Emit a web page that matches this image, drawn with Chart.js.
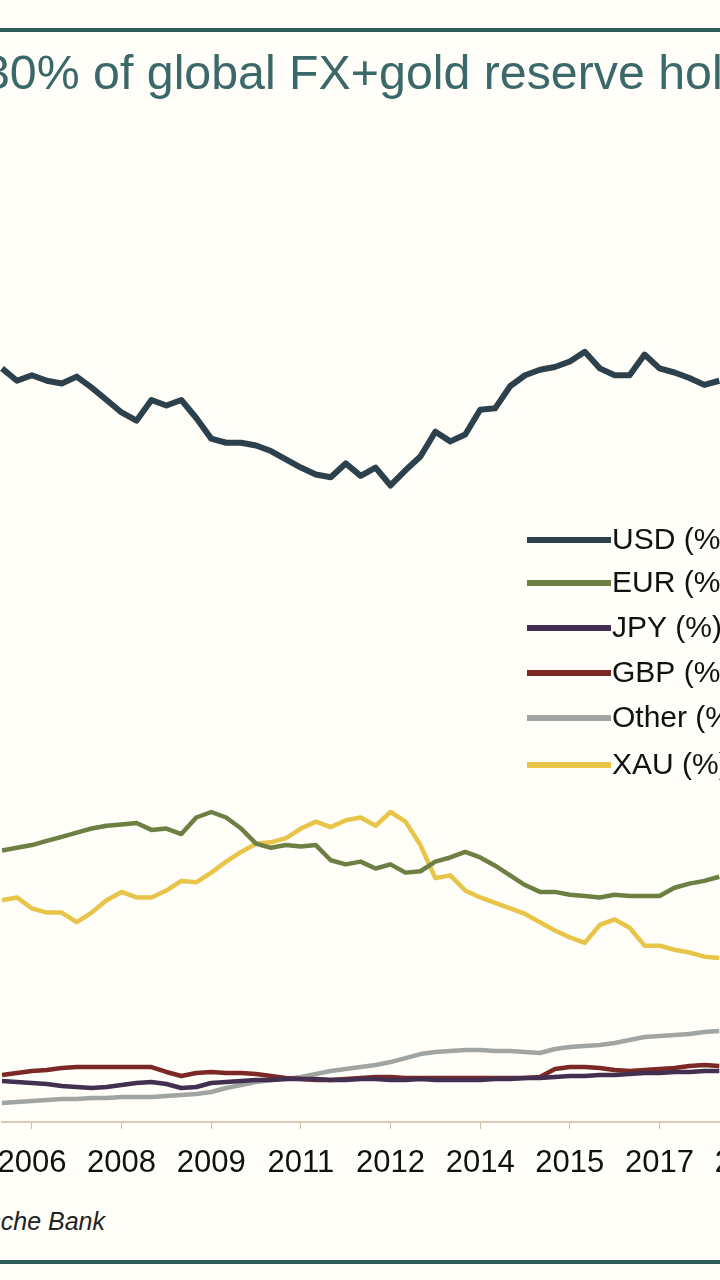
<!DOCTYPE html>
<html>
<head>
<meta charset="utf-8">
<script src="https://cdn.jsdelivr.net/npm/chart.js@4.4.1/dist/chart.umd.min.js"></script>
<style>
  html, body { margin: 0; padding: 0; background: #fffef8; }
  #frame { position: relative; width: 720px; height: 1280px; overflow: hidden; background: #fffef8; }
  #myChart { position: absolute; left: 0; top: 0; }
  .rule { position: absolute; left: 0; width: 720px; height: 4px; background: #2d5a5a; }
  #title { position: absolute; left: -17px; top: 46px; white-space: nowrap;
           font: 48.3px/52px "Liberation Sans", Arial, sans-serif; color: #3b6868; }
  #source { position: absolute; right: 615px; top: 1206px; white-space: nowrap; text-align: right;
            font: italic 25px/30px "Liberation Sans", Arial, sans-serif; color: #222; }
</style>
</head>
<body>
<div id="frame">
  <div class="rule" style="top:28px"></div>
  <div id="title">30% of global FX+gold reserve holdings</div>
  <canvas id="myChart" width="794" height="1200"></canvas>
  <div id="source">Source: IMF, Deutsche Bank</div>
  <div class="rule" style="top:1260px"></div>
</div>
<script>
// quarterly categories, 2006Q1 .. 2019Q2 (the right part is cut off like the original)
const quarters = [
  '2006Q1','2006Q2','2006Q3','2006Q4','2007Q1','2007Q2','2007Q3','2007Q4',
  '2008Q1','2008Q2','2008Q3','2008Q4','2009Q1','2009Q2','2009Q3','2009Q4',
  '2010Q1','2010Q2','2010Q3','2010Q4','2011Q1','2011Q2','2011Q3','2011Q4',
  '2012Q1','2012Q2','2012Q3','2012Q4','2013Q1','2013Q2','2013Q3','2013Q4',
  '2014Q1','2014Q2','2014Q3','2014Q4','2015Q1','2015Q2','2015Q3','2015Q4',
  '2016Q1','2016Q2','2016Q3','2016Q4','2017Q1','2017Q2','2017Q3','2017Q4',
  '2018Q1','2018Q2','2018Q3','2018Q4','2019Q1','2019Q2'
];

// x tick labels (every 6 quarters)
const tickQuarters = ['2006Q3','2008Q1','2009Q3','2011Q1','2012Q3','2014Q1','2015Q3','2017Q1','2018Q3'];
const tickLabels   = ['2006','2008','2009','2011','2012','2014','2015','2017','2018'];

// shares of FX+gold reserves, %
const usd = [54.7,53.8,54.2,53.8,53.6,54.1,53.3,52.4,51.5,50.9,52.4,52.0,52.4,51.1,49.6,49.3,
             49.3,49.1,48.7,48.1,47.5,47.0,46.8,47.8,46.9,47.5,46.2,47.3,48.3,50.1,49.4,49.9,
             51.7,51.8,53.4,54.2,54.6,54.8,55.2,55.9,54.7,54.2,54.2,55.7,54.7,54.4,54.0,53.5,53.8];
const eur = [19.7,19.9,20.1,20.4,20.7,21.0,21.3,21.5,21.6,21.7,21.2,21.3,20.9,22.1,22.5,22.1,
             21.3,20.2,19.9,20.1,20.0,20.1,19.0,18.7,18.9,18.4,18.7,18.1,18.2,18.9,19.2,19.6,
             19.2,18.6,17.9,17.2,16.7,16.7,16.5,16.4,16.3,16.5,16.4,16.4,16.4,17.0,17.3,17.5,17.8];
const jpy = [2.98,2.90,2.83,2.76,2.61,2.54,2.47,2.54,2.69,2.83,2.90,2.76,2.47,2.54,2.83,2.90,
             2.98,3.05,3.05,3.12,3.12,3.12,3.05,3.05,3.12,3.12,3.05,3.05,3.12,3.05,3.05,3.05,
             3.05,3.12,3.12,3.19,3.19,3.27,3.34,3.34,3.41,3.41,3.48,3.56,3.56,3.63,3.63,3.70,3.70];
const gbp = [3.41,3.56,3.70,3.77,3.92,3.99,3.99,3.99,3.99,3.99,3.99,3.63,3.34,3.56,3.63,3.56,
             3.56,3.48,3.34,3.19,3.12,3.05,3.05,3.12,3.19,3.27,3.27,3.19,3.19,3.19,3.19,3.19,
             3.19,3.19,3.19,3.19,3.27,3.85,3.99,3.99,3.92,3.77,3.70,3.77,3.85,3.92,4.06,4.14,4.06];
const other = [1.38,1.45,1.52,1.60,1.67,1.67,1.74,1.74,1.81,1.81,1.81,1.89,1.96,2.03,2.18,2.47,
               2.69,2.90,3.05,3.12,3.27,3.48,3.70,3.85,3.99,4.14,4.35,4.64,4.93,5.08,5.15,5.22,
               5.22,5.15,5.15,5.08,5.01,5.30,5.44,5.52,5.59,5.73,5.95,6.17,6.24,6.31,6.39,6.53,6.60];
const xau = [16.1,16.3,15.5,15.2,15.2,14.5,15.2,16.1,16.7,16.3,16.3,16.8,17.5,17.4,18.1,18.9,
             19.6,20.2,20.3,20.6,21.3,21.8,21.4,21.9,22.1,21.5,22.5,21.8,20.1,17.7,17.9,16.8,
             16.3,15.9,15.5,15.1,14.5,13.9,13.4,13.0,14.3,14.7,14.1,12.8,12.8,12.5,12.3,12.0,11.9];

const seriesNames  = ['USD (%)','EUR (%)','JPY (%)','GBP (%)','Other (%)','XAU (%)'];
const seriesColors = ['#2c414b','#6e7f44','#432f50','#7c2826','#a0a4a3','#e8c548'];

// legend drawn inside the plot, like the original
const insideLegend = {
  id: 'insideLegend',
  afterDatasetsDraw(chart) {
    const ctx = chart.ctx;
    const rows = [540, 583, 628, 673, 718, 765];
    ctx.save();
    chart.data.datasets.forEach((ds, i) => {
      ctx.strokeStyle = ds.borderColor;
      ctx.lineWidth = 6;
      ctx.beginPath();
      ctx.moveTo(527, rows[i]);
      ctx.lineTo(611, rows[i]);
      ctx.stroke();
      ctx.fillStyle = '#111';
      ctx.font = '30px "Liberation Sans", Arial, sans-serif';
      ctx.textBaseline = 'middle';
      ctx.fillText(ds.label, 612, rows[i] + 1);
    });
    ctx.restore();
  }
};

function createChart() {
  const ctx = document.getElementById('myChart').getContext('2d');
  const values = [usd, eur, jpy, gbp, other, xau];
  new Chart(ctx, {
    type: 'line',
    data: {
      labels: quarters,
      datasets: values.map((v, i) => ({
        label: seriesNames[i],
        data: v,
        borderColor: seriesColors[i],
        backgroundColor: seriesColors[i],
        borderWidth: i === 0 ? 6 : 4.5,
        pointRadius: 0,
        tension: 0,
        borderJoinStyle: 'round'
      }))
    },
    options: {
      responsive: false,
      animation: false,
      layout: { padding: { left: 2, top: 130, right: 0, bottom: 0 } },
      plugins: { legend: { display: false }, tooltip: { enabled: false } },
      scales: {
        x: {
          afterFit(scale) {
            scale.height = 78;
            scale.paddingLeft = 0;   // no extra room for the first label, the plot runs off the left edge
            scale.paddingRight = 0;
          },
          grid: { drawOnChartArea: false, drawTicks: true, tickLength: 7, color: '#cdbfa6', lineWidth: 1 },
          border: { display: true, color: '#d8cbb1', width: 2 },
          ticks: {
            autoSkip: false,
            maxRotation: 0,
            padding: 16,
            color: '#111',
            font: { family: '"Liberation Sans", Arial, sans-serif', size: 31 },
            callback: function(value, index) {
              const k = tickQuarters.indexOf(quarters[index]);
              return k >= 0 ? tickLabels[k] : null;
            }
          }
        },
        y: { display: false, min: 0, max: 72 }
      }
    },
    plugins: [insideLegend]
  });
}

createChart();
</script>
</body>
</html>
